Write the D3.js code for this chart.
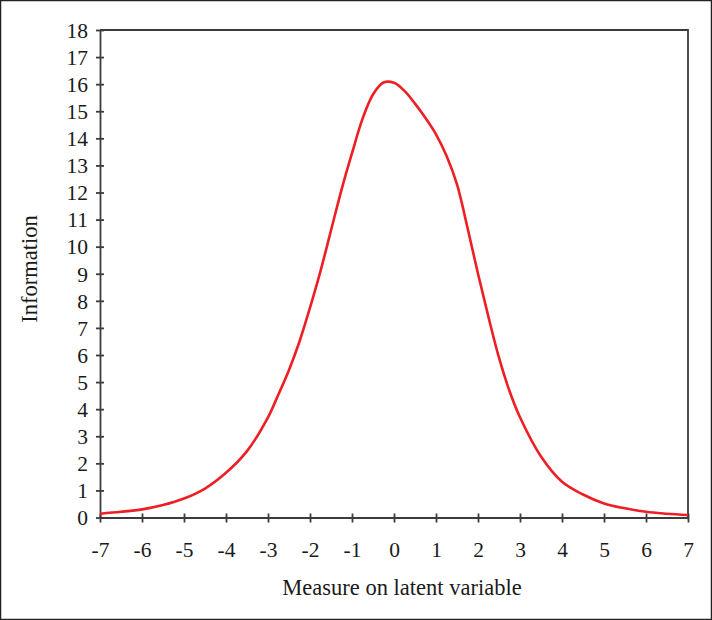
<!DOCTYPE html>
<html>
<head>
<meta charset="utf-8">
<script src="https://cdn.jsdelivr.net/npm/d3@7"></script>
<style>
  body { margin: 0; background: #fff; }
  .axis text { font-family: "Liberation Serif", "DejaVu Serif", serif; font-size: 21.5px; fill: #1a1a1a; }
  .axis path, .axis line { stroke: #3c3c3c; stroke-width: 1.8; }
  .titulo { font-family: "Liberation Serif", "DejaVu Serif", serif; font-size: 22.5px; fill: #1a1a1a; }
</style>
</head>
<body>
<div id="graf"></div>
<script>
// Datos
const medida = [-7, -6.5, -6, -5.5, -5, -4.5, -4, -3.5, -3, -2.75, -2.5, -2.25, -2, -1.75, -1.5, -1.25, -1, -0.75, -0.5, -0.25, 0, 0.25, 0.5, 0.75, 1, 1.25, 1.5, 1.75, 2, 2.25, 2.5, 2.75, 3, 3.5, 4, 4.5, 5, 5.5, 6, 6.5, 7]
const informacion = [0.14, 0.21, 0.3, 0.46, 0.7, 1.07, 1.65, 2.45, 3.7, 4.55, 5.45, 6.5, 7.75, 9.1, 10.6, 12.1, 13.45, 14.72, 15.62, 16.06, 16.05, 15.75, 15.28, 14.75, 14.15, 13.36, 12.3, 10.7, 9.0, 7.4, 5.9, 4.67, 3.7, 2.25, 1.32, 0.85, 0.52, 0.34, 0.21, 0.14, 0.09]
const xTicks = d3.range(-7, 8)
const yTicks = d3.range(0, 19)

const datos = medida.map((m, i) => ({ x: m, y: informacion[i] }))

// Selectores
const graf = d3.select("#graf")

// Dimensiones
const anchoTotal = 712
const altoTotal = 620
const margins = { top: 30, right: 24, bottom: 102.5, left: 100 }
const ancho = anchoTotal - margins.left - margins.right
const alto = altoTotal - margins.top - margins.bottom

const svg = graf
  .append("svg")
  .attr("width", anchoTotal)
  .attr("height", altoTotal)

// Marco exterior
svg
  .append("rect")
  .attr("x", 0.5)
  .attr("y", 0.5)
  .attr("width", anchoTotal - 1)
  .attr("height", altoTotal - 1)
  .attr("fill", "none")
  .attr("stroke", "#222")
  .attr("stroke-width", 1.5)

const g = svg
  .append("g")
  .attr("transform", `translate(${margins.left}, ${margins.top})`)

// Escaladores
const x = d3.scaleLinear().domain([-7, 7]).range([0, ancho])
const y = d3.scaleLinear().domain([0, 18]).range([alto, 0])

// Marco del area de dibujo (arriba y derecha)
g.append("path")
  .attr("d", `M${x(-7)},${y(18)}H${x(7)}V${y(0)}`)
  .attr("fill", "none")
  .attr("stroke", "#3c3c3c")
  .attr("stroke-width", 1.8)

// Ejes (guion normal en los negativos, como el original)
const fmt = (d) => String(d)
const xAxis = d3.axisBottom(x).tickValues(xTicks).tickFormat(fmt).tickSize(4).tickPadding(20).tickSizeOuter(0)
const yAxis = d3.axisLeft(y).tickValues(yTicks).tickFormat(fmt).tickSize(4).tickPadding(8).tickSizeOuter(0)

const xAxisGroup = g
  .append("g")
  .attr("transform", `translate(0, ${alto})`)
  .classed("axis", true)
  .call(xAxis)
xAxisGroup.selectAll(".tick line").attr("y1", -4).attr("y2", 5)

const yAxisGroup = g.append("g").classed("axis", true).call(yAxis)
yAxisGroup.selectAll(".tick line").attr("x1", -4).attr("x2", 4)
yAxisGroup.selectAll(".tick text").attr("dy", "0.34em")

// Curva
const linea = d3
  .line()
  .x((d) => x(d.x))
  .y((d) => y(d.y))
  .curve(d3.curveCatmullRom.alpha(0.5))

g.append("path")
  .datum(datos)
  .attr("d", linea)
  .attr("fill", "none")
  .attr("stroke", "#ee1f24")
  .attr("stroke-width", 2.6)
  .attr("stroke-linejoin", "round")

// Titulos
svg
  .append("text")
  .attr("x", 402)
  .attr("y", 595)
  .attr("text-anchor", "middle")
  .classed("titulo", true)
  .text("Measure on latent variable")

svg
  .append("text")
  .attr("transform", "translate(37, 269) rotate(-90)")
  .attr("text-anchor", "middle")
  .classed("titulo", true)
  .text("Information")
</script>
</body>
</html>
